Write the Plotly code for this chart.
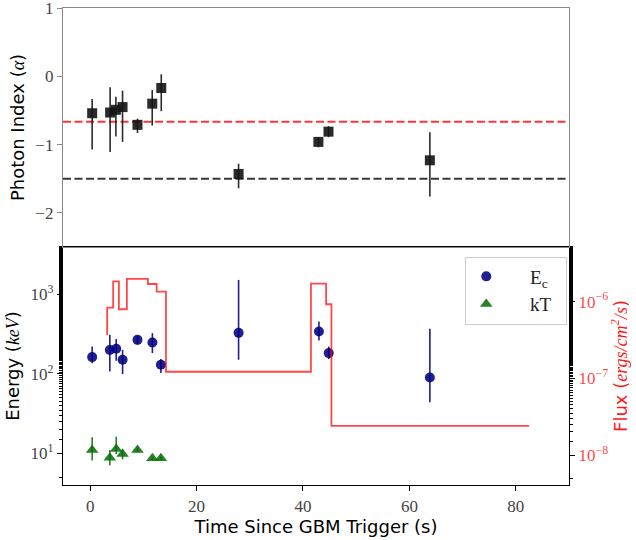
import plotly.graph_objects as go

# Photon index per time bin
t_alpha = [0.38, 3.76, 4.84, 6.09, 8.9, 11.67, 13.37, 27.9, 42.9, 44.8, 63.85]
alpha = [-0.54, -0.53, -0.49, -0.45, -0.71, -0.40, -0.17, -1.43, -0.96, -0.81, -1.23]
alpha_hi = [-0.33, -0.16, -0.30, -0.21, -0.62, -0.20, 0.03, -1.28, -0.89, -0.73, -0.82]
alpha_lo = [-1.07, -1.11, -0.88, -0.96, -0.83, -0.72, -0.51, -1.64, -1.04, -0.89, -1.76]

# Reference index lines
alpha_sync = -2.0 / 3.0
alpha_cool = -1.5

# Cutoff energy (keV)
t_ec = [0.38, 3.7, 4.9, 6.1, 8.9, 11.7, 13.3, 27.9, 43.0, 44.85, 63.85]
ec = [162, 199, 206, 150, 267, 247, 130, 327, 340, 182, 90]
ec_hi = [220, 309, 273, 200, 300, 324, 153, 1514, 454, 220, 367]
ec_lo = [136, 107, 146, 99, 233, 182, 102, 150, 262, 153, 44]

# Blackbody temperature (keV)
t_kt = [0.38, 3.7, 4.9, 6.1, 8.9, 11.7, 13.3]
kt = [11.0, 8.8, 11.3, 9.8, 11.0, 8.65, 8.65]
kt_hi = [15.9, 11.0, 16.2, 11.2, 11.8, 9.1, 9.1]
kt_lo = [8.1, 7.1, 9.8, 8.4, 10.3, 8.2, 8.2]

# Energy flux light curve (bin edges, step drawn "pre")
t_flux = [3.2, 4.33, 5.4, 6.9, 10.86, 12.5, 14.25, 41.5, 44.35, 45.35, 82.5]
flux = [3.68e-7, 8.35e-7, 1.84e-6, 7.96e-7, 1.98e-6, 1.70e-6, 1.35e-6,
        1.22e-7, 1.72e-6, 9.25e-7, 2.4e-8]

x_ticks = [0, 20, 40, 60, 80]
alpha_ticks = [1, 0, -1, -2]
alpha_ticktext = ["1", "0", "\u22121", "\u22122"]

SERIF = "Liberation Serif"
SANS = "DejaVu Sans"
TICK_COLOR = "#444444"
PAD = "\u00a0" * 5


def errs(vals, hi, lo):
    return dict(type="data", symmetric=False,
                array=[h - v for v, h in zip(vals, hi)],
                arrayminus=[v - l for v, l in zip(vals, lo)])


fig = go.Figure()

# Top panel: photon index
e = errs(alpha, alpha_hi, alpha_lo)
fig.add_trace(go.Scatter(
    x=t_alpha, y=alpha, mode="markers", xaxis="x2", yaxis="y3", showlegend=False,
    marker=dict(symbol="square", size=10, color="rgba(20,20,20,0.9)"),
    error_y=dict(**e, color="rgba(20,20,20,0.9)", thickness=1.6, width=0),
))

# Bottom panel: flux step curve on secondary axis
fig.add_trace(go.Scatter(
    x=t_flux, y=flux, mode="lines", line_shape="vh", xaxis="x", yaxis="y2",
    showlegend=False, line=dict(color="rgba(255,0,0,0.72)", width=1.8),
))

e = errs(ec, ec_hi, ec_lo)
fig.add_trace(go.Scatter(
    x=t_ec, y=ec, mode="markers", xaxis="x", yaxis="y", name=PAD + "E<sub>c</sub>\u00a0\u00a0",
    marker=dict(symbol="circle", size=10, color="rgba(0,0,128,0.88)"),
    error_y=dict(**e, color="rgba(0,0,128,0.88)", thickness=1.6, width=0),
))

e = errs(kt, kt_hi, kt_lo)
fig.add_trace(go.Scatter(
    x=t_kt, y=kt, mode="markers", xaxis="x", yaxis="y", name=PAD + "kT\u00a0\u00a0",
    marker=dict(symbol="triangle-up", size=11, color="rgba(10,110,10,0.88)"),
    error_y=dict(**e, color="rgba(10,110,10,0.88)", thickness=1.6, width=0),
))

# Dashed reference lines in top panel
for yv, col in [(alpha_sync, "rgba(255,0,0,0.8)"), (alpha_cool, "rgba(0,0,0,0.78)")]:
    fig.add_shape(type="line", xref="x2 domain", yref="y3", x0=0, x1=1, y0=yv, y1=yv,
                  line=dict(color=col, width=2, dash="8px,3.5px"), layer="below")

tickfont = dict(family=SERIF, size=17, color=TICK_COLOR)

fig.update_layout(
    width=636, height=540,
    margin=dict(l=63, r=67, t=8, b=55, autoexpand=False),
    plot_bgcolor="white", paper_bgcolor="white",
    showlegend=True,
    legend=dict(x=0.795, y=0.479, xanchor="left", yanchor="top",
                bgcolor="rgba(255,255,255,0.8)", bordercolor="#cccccc", borderwidth=1,
                font=dict(family=SERIF, size=19, color="#222222"),
                itemwidth=30, tracegroupgap=2),
    xaxis=dict(domain=[0, 1], anchor="y", range=[-5.1, 90], tickvals=x_ticks,
               ticks="outside", ticklen=5, tickcolor="black", showgrid=False,
               showline=True, linecolor="black", linewidth=1.3, mirror=True,
               tickfont=tickfont, zeroline=False, automargin=False,
               title=dict(text="Time Since GBM Trigger (s)", standoff=4,
                          font=dict(family=SANS, size=18, color="black"))),
    xaxis2=dict(domain=[0, 1], anchor="y3", matches="x", showticklabels=False,
                ticks="", showgrid=False, showline=True, linecolor="#888888",
                linewidth=1.3, mirror=True, zeroline=False, automargin=False),
    yaxis=dict(domain=[0, 0.499], anchor="x", type="log", range=[0.602, 3.594],
               tickvals=[10, 100, 1000],
               ticktext=["10<sup>1</sup>", "10<sup>2</sup>", "10<sup>3</sup>"],
               ticks="outside", ticklen=5, tickcolor="black",
               minor=dict(ticks="outside", ticklen=2.5, tickcolor="black", showgrid=False),
               showgrid=False, showline=True, linecolor="black", linewidth=1.3,
               tickfont=tickfont, zeroline=False, automargin=False,
               title=dict(text="Energy (<i><span style='font-family:Liberation Serif'>keV</span></i>)",
                          standoff=6, font=dict(family=SANS, size=18, color="black"))),
    yaxis2=dict(overlaying="y", side="right", anchor="x", type="log",
                range=[-8.39, -5.287], tickvals=[1e-8, 1e-7, 1e-6],
                ticktext=["10<sup>\u22128</sup>", "10<sup>\u22127</sup>", "10<sup>\u22126</sup>"],
                ticks="outside", ticklen=5, tickcolor="black",
                minor=dict(ticks="outside", ticklen=2.5, tickcolor="black", showgrid=False),
                showgrid=False, showline=True, linecolor="black", linewidth=1.3,
                tickfont=dict(family=SERIF, size=17, color="rgba(255,0,0,0.75)"),
                zeroline=False, automargin=False,
                title=dict(text="Flux (<i><span style='font-family:Liberation Serif'>ergs/cm<sup>2</sup>/s</span></i>)",
                           standoff=4, font=dict(family=SANS, size=18, color="rgba(255,0,0,0.9)"))),
    yaxis3=dict(domain=[0.499, 1], anchor="x2", range=[-2.5, 1.002],
                tickvals=alpha_ticks, ticktext=alpha_ticktext,
                ticks="outside", ticklen=5, tickcolor="#888888",
                ticklabeloverflow="allow", automargin=False,
                showgrid=False, showline=True, linecolor="#888888", linewidth=1.3,
                mirror=True, tickfont=tickfont, zeroline=False,
                title=dict(text="Photon Index (<i><span style='font-family:Liberation Serif'>\u03b1</span></i>)",
                           standoff=6, font=dict(family=SANS, size=18, color="black"))),
)

fig.write_html("out.html")
